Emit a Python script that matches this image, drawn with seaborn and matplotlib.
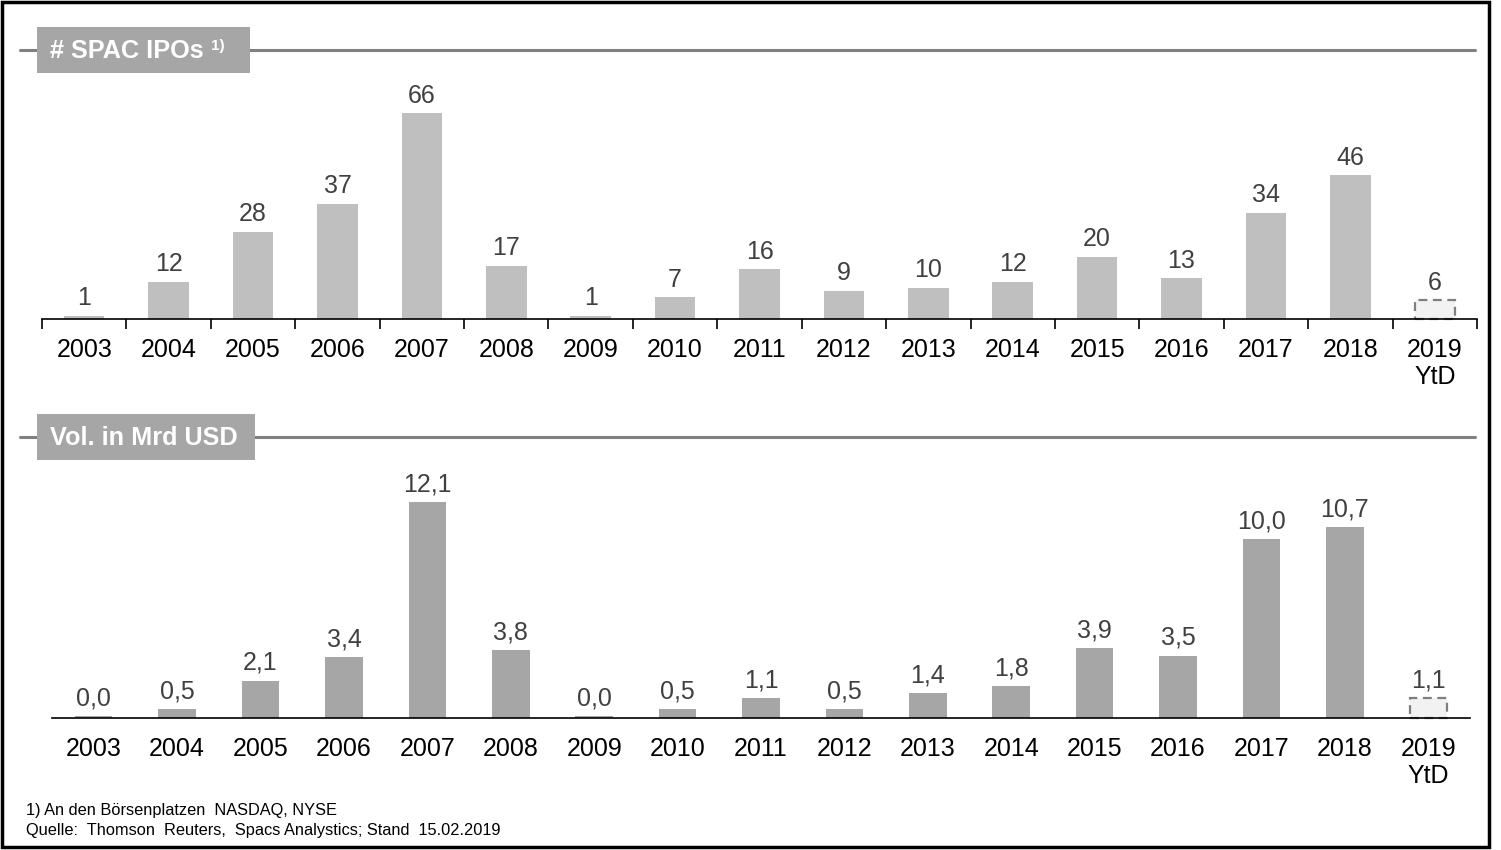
import numpy as np
import pandas as pd
import seaborn as sns
import matplotlib.pyplot as plt
from matplotlib.patches import Rectangle
from matplotlib.lines import Line2D

years = ["2003", "2004", "2005", "2006", "2007", "2008", "2009", "2010", "2011",
         "2012", "2013", "2014", "2015", "2016", "2017", "2018", "2019\nYtD"]
ipos = [1, 12, 28, 37, 66, 17, 1, 7, 16, 9, 10, 12, 20, 13, 34, 46, 6]
vol = [0.0, 0.5, 2.1, 3.4, 12.1, 3.8, 0.0, 0.5, 1.1, 0.5, 1.4, 1.8, 3.9, 3.5, 10.0, 10.7, 1.1]
vol_plot = [0.12 if v == 0 else v for v in vol]  # 0,0 bars still show a thin sliver

sns.set_theme(style="white")
plt.rcParams["font.family"] = ["Liberation Sans", "DejaVu Sans"]

fig = plt.figure(figsize=(15.01, 8.5), dpi=100)
W, H = 1501, 850

def px(x0, y0, x1, y1):
    return [x0 / W, 1 - y1 / H, (x1 - x0) / W, (y1 - y0) / H]

def panel(rect, plotvals, color, ymax, width, labels, minor_ticks):
    ax = fig.add_axes(rect)
    df = pd.DataFrame({"year": years, "v": plotvals})
    sns.barplot(data=df, x="year", y="v", color=color, width=width, ax=ax,
                saturation=1, edgecolor="none")
    ax.set_ylim(0, ymax)
    ax.set_xlim(-0.5, len(years) - 0.5)
    for s in ["top", "right", "left"]:
        ax.spines[s].set_visible(False)
    ax.spines["bottom"].set_color("black")
    ax.spines["bottom"].set_linewidth(1.2)
    ax.spines["bottom"].set_zorder(5)
    ax.set_yticks([])
    ax.set_xlabel("")
    ax.set_ylabel("")
    ax.tick_params(axis="x", which="major", length=0, labelsize=18, pad=14,
                   labelcolor="black")
    for t in ax.get_xticklabels():
        t.set_linespacing(1.15)
    if minor_ticks:
        ax.set_xticks(np.arange(-0.5, len(years)), minor=True)
        ax.tick_params(axis="x", which="minor", length=7, width=1.2,
                       color="black", direction="out", bottom=True)
    last = ax.patches[-1]
    last.set_facecolor("#F2F2F2")
    last.set_edgecolor("#7F7F7F")
    last.set_linestyle((0, (4, 2.5)))
    last.set_linewidth(1.6)
    last.set_clip_on(False)
    for p, lab in zip(ax.patches, labels):
        ax.text(p.get_x() + p.get_width() / 2, p.get_height() + ymax * 0.025, lab,
                ha="center", va="bottom", fontsize=18, color="#404040")
    return ax

panel(px(42, 100, 1477, 319), ipos, "#BFBFBF", 70.2, 0.48,
      [str(v) for v in ipos], True)
panel(px(52, 490, 1470, 718), vol_plot, "#A6A6A6", 12.77, 0.45,
      [f"{v:.1f}".replace(".", ",") for v in vol], False)

# section headers
def header(y, x1, text):
    fig.add_artist(Line2D([20 / W, 1475 / W], [1 - y / H, 1 - y / H],
                          color="#808080", lw=2.2, transform=fig.transFigure))
    fig.add_artist(Rectangle((37 / W, 1 - (y + 23) / H), (x1 - 37) / W, 46 / H,
                             facecolor="#A6A6A6", edgecolor="none",
                             transform=fig.transFigure, zorder=3))
    fig.text(50 / W, 1 - (y + 1) / H, text, ha="left", va="center", fontsize=18.2,
             fontweight="bold", color="white", zorder=4)

header(50, 250, "# SPAC IPOs")
fig.text(211 / W, 1 - 46 / H, "1)", ha="left", va="center", fontsize=11,
         fontweight="bold", color="white", zorder=4)
header(437, 255, "Vol. in Mrd USD")

fig.text(26 / W, 1 - 810 / H, "1) An den Börsenplatzen  NASDAQ, NYSE",
         fontsize=11.8, color="black", va="center")
fig.text(26 / W, 1 - 830 / H, "Quelle:  Thomson  Reuters,  Spacs Analystics; Stand  15.02.2019",
         fontsize=11.8, color="black", va="center")

# outer frame
fig.add_artist(Rectangle((0.001, 0.003), 0.991, 0.995, fill=False,
                         edgecolor="black", lw=2.5, transform=fig.transFigure))

fig.savefig("out.png", dpi=100, facecolor="white")
